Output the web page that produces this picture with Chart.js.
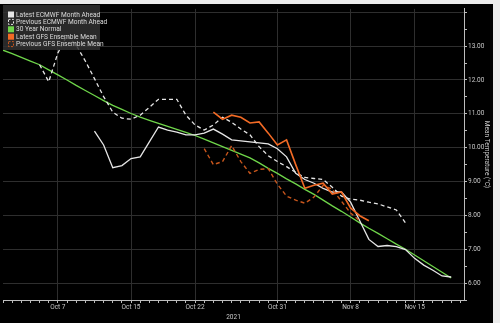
<!DOCTYPE html>
<html>
<head>
<meta charset="utf-8">
<script src="https://cdn.jsdelivr.net/npm/chart.js@4"></script>
<style>
  html, body { margin: 0; padding: 0; background: #ececec; }
  #wrap { position: absolute; left: 0; top: 4px; width: 493px; height: 319px; background: #000; }
</style>
</head>
<body>
<div id="wrap"><canvas id="tempChart" width="493" height="319"></canvas></div>
<script>
// day index 0 = Oct 1 2021
var tickDays = [6, 14, 21, 30, 38, 45];
var tickLabels = ["Oct 7", "Oct 15", "Oct 22", "Oct 31", "Nov 8", "Nov 15"];

var normal30 = [12.88, 12.78, 12.67, 12.56, 12.45, 12.30, 12.15, 12.00, 11.84, 11.69,
    11.54, 11.39, 11.25, 11.13, 11.01, 10.90, 10.81, 10.72, 10.63, 10.54,
    10.45, 10.36, 10.25, 10.14, 10.03, 9.92, 9.81, 9.70, 9.55, 9.39,
    9.24, 9.08, 8.93, 8.77, 8.62, 8.45, 8.28, 8.12, 7.95, 7.78,
    7.62, 7.47, 7.31, 7.15, 7.00, 6.83, 6.66, 6.49, 6.32, 6.15];

var prevEcmwf = [null, null, null, null, 12.45, 11.95, 12.80, 13.32, 13.03, 12.56,
    12.04, 11.51, 11.05, 10.87, 10.84, 10.96, 11.19, 11.43, 11.43, 11.43,
    10.96, 10.67, 10.52, 10.67, 10.90, 10.75, 10.55, 10.38, 10.03, 9.76,
    9.59, 9.44, 9.27, 9.12, 9.09, 9.06, 8.83, 8.57, 8.48, 8.45,
    8.39, 8.34, 8.25, 8.16, 7.78, null, null, null, null, null];

var latestEcmwf = [null, null, null, null, null, null, null, null, null, null,
    10.49, 10.08, 9.41, 9.47, 9.68, 9.73, 10.17, 10.61, 10.52, 10.46,
    10.38, 10.38, 10.43, 10.55, 10.40, 10.23, 10.20, 10.17, 10.14, 10.11,
    9.97, 9.73, 9.24, 9.06, 8.95, 8.80, 8.69, 8.69, 8.39, 7.84,
    7.29, 7.08, 7.11, 7.08, 6.99, 6.73, 6.53, 6.38, 6.21, 6.18];

var latestGfs = [null, null, null, null, null, null, null, null, null, null,
    null, null, null, null, null, null, null, null, null, null,
    null, null, null, 11.05, 10.84, 10.96, 10.90, 10.73, 10.76, 10.43,
    10.08, 10.23, 9.50, 8.80, 8.89, 8.95, 8.63, 8.69, 8.22, 7.99,
    7.84, null, null, null, null, null, null, null, null, null];

var prevGfs = [null, null, null, null, null, null, null, null, null, null,
    null, null, null, null, null, null, null, null, null, null,
    null, null, 9.97, 9.50, 9.59, 10.06, 9.59, 9.24, 9.36, 9.38,
    8.92, 8.57, 8.45, 8.36, 8.54, 8.89, 8.77, 8.42, 8.07, 7.84,
    null, null, null, null, null, null, null, null, null, null];

var legendNames = ["Latest ECMWF Month Ahead", "Previous ECMWF Month Ahead", "30 Year Normal", "Latest GFS Ensemble Mean", "Previous GFS Ensemble Mean"];

function toPoints(arr) {
    var pts = [];
    arr.forEach(function (v, i) { pts.push({ x: i, y: v }); });
    return pts;
}

var fontFam = "Roboto, 'DejaVu Sans', sans-serif";

var legendPlugin = {
    id: "boxLegend",
    afterDraw: function (chart) {
        var ctx = chart.ctx;
        var ds = chart.data.datasets;
        ctx.save();
        ctx.fillStyle = "rgba(48,48,48,0.85)";
        ctx.fillRect(3, 1, 97, 45);
        ctx.font = "6.6px " + fontFam;
        ctx.textBaseline = "middle";
        legendNames.forEach(function (name, i) {
            var d = ds.filter(function (s) { return s.label === name; })[0];
            var cy = 10.5 + i * 7.4;
            if (d.borderDash && d.borderDash.length) {
                ctx.strokeStyle = d.borderColor;
                ctx.lineWidth = 1;
                ctx.setLineDash([2, 1.5]);
                ctx.strokeRect(8.5, cy - 2.5, 5, 5);
                ctx.setLineDash([]);
            } else {
                ctx.fillStyle = d.borderColor;
                ctx.fillRect(8, cy - 3, 6, 6);
            }
            ctx.fillStyle = "#dcdcdc";
            ctx.fillText(name, 16, cy + 0.5);
        });
        ctx.restore();
    }
};

var ctx = document.getElementById("tempChart");
var myChart = new Chart(ctx, {
    type: "line",
    data: {
        datasets: [
            { label: "Latest GFS Ensemble Mean", data: toPoints(latestGfs), borderColor: "#f26a25", borderWidth: 1.6, order: 0 },
            { label: "Previous GFS Ensemble Mean", data: toPoints(prevGfs), borderColor: "#c8561c", borderWidth: 1.4, borderDash: [4, 3], order: 1 },
            { label: "Latest ECMWF Month Ahead", data: toPoints(latestEcmwf), borderColor: "#e6e6e6", borderWidth: 1.3, order: 2 },
            { label: "Previous ECMWF Month Ahead", data: toPoints(prevEcmwf), borderColor: "#e6e6e6", borderWidth: 1.3, borderDash: [4, 3], order: 3 },
            { label: "30 Year Normal", data: toPoints(normal30), borderColor: "#6fd64a", borderWidth: 1.3, order: 4 }
        ]
    },
    options: {
        responsive: false,
        animation: false,
        devicePixelRatio: 1,
        layout: { padding: { left: 3, top: 1, right: 0, bottom: 0 } },
        elements: { point: { radius: 0 }, line: { tension: 0 } },
        plugins: { legend: { display: false }, tooltip: { enabled: false } },
        scales: {
            x: {
                type: "linear",
                min: 0,
                max: 50.4,
                afterFit: function (scale) { scale.height = 23; },
                border: { color: "#bdbdbd", width: 1 },
                grid: {
                    color: function (c) { return tickDays.indexOf(c.tick && c.tick.value) >= 0 ? "#2e2e2e" : "rgba(0,0,0,0)"; },
                    tickColor: "#bdbdbd",
                    tickLength: 3
                },
                ticks: {
                    stepSize: 1,
                    includeBounds: false,
                    autoSkip: false,
                    maxRotation: 0,
                    padding: 0,
                    color: "#c8c8c8",
                    font: { size: 6.5, family: fontFam },
                    callback: function (v) {
                        var k = tickDays.indexOf(v);
                        return k >= 0 ? tickLabels[k] : "";
                    }
                },
                title: { display: true, text: "2021", color: "#c8c8c8", font: { size: 6.5, family: fontFam }, padding: { top: 0, bottom: 2 } }
            },
            y: {
                type: "linear",
                position: "right",
                min: 5.5,
                max: 14.1,
                afterFit: function (scale) { scale.width = 29; },
                border: { color: "#bdbdbd", width: 1 },
                grid: {
                    color: function (c) { return c.tick && Number.isInteger(c.tick.value) ? "#2e2e2e" : "rgba(0,0,0,0)"; },
                    tickColor: "#bdbdbd",
                    tickLength: 3
                },
                ticks: {
                    stepSize: 0.5,
                    includeBounds: false,
                    padding: 1,
                    color: "#c8c8c8",
                    font: { size: 6.5, family: fontFam },
                    callback: function (v) {
                        return Number.isInteger(v) && v >= 6 && v <= 13 ? v.toFixed(2) : "";
                    }
                },
                title: { display: true, text: "Mean Temperature (°C)", color: "#c8c8c8", font: { size: 6.5, family: fontFam }, padding: { top: 2, bottom: 0 } }
            }
        }
    },
    plugins: [legendPlugin]
});
</script>
</body>
</html>
